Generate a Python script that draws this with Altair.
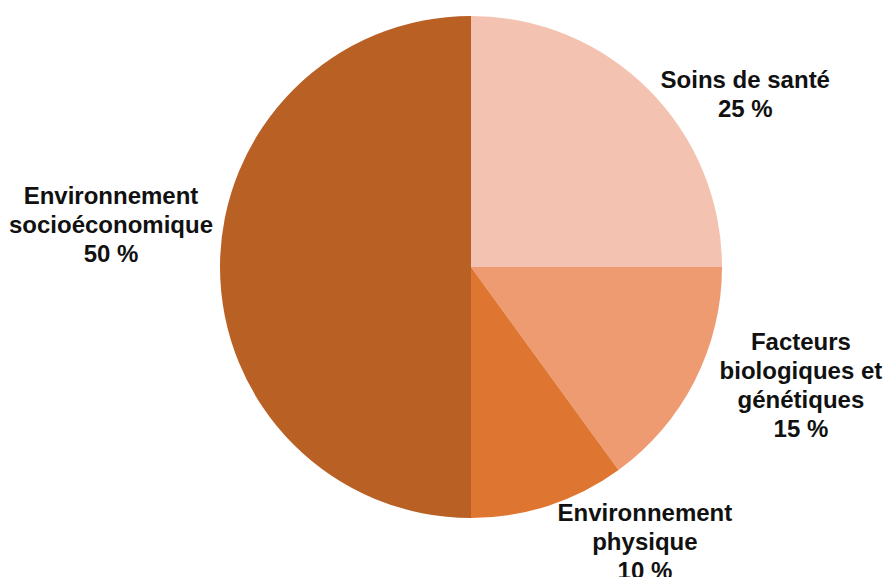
import altair as alt
import pandas as pd

categories = ["Soins de santé", "Facteurs biologiques et génétiques", "Environnement physique", "Environnement socioéconomique"]
labels = ["Soins de santé\n25 %", "Facteurs\nbiologiques et\ngénétiques\n15 %", "Environnement\nphysique\n10 %", "Environnement\nsocioéconomique\n50 %"]
values = [25, 15, 10, 50]
order = [1, 2, 3, 4]
colors = ["#F4C2B0", "#EF9B72", "#DE7530", "#B96024"]

df = pd.DataFrame({"cat": categories, "label": labels, "value": values, "order": order})

theta_scale = alt.Scale(domain=[0, 100])

base = alt.Chart(df).transform_stack(
    stack="value", groupby=[], as_=["start", "end"], sort=[alt.SortField("order")]
).transform_calculate(mid="(datum.start + datum.end) / 2")

pie = base.mark_arc(outerRadius=251).encode(
    theta=alt.Theta("start:Q", scale=theta_scale),
    theta2="end:Q",
    color=alt.Color("cat:N", scale=alt.Scale(domain=categories, range=colors), legend=None),
)

# per-label placement (radius, dx, dy) relative to slice midpoint
placement = {
    categories[0]: (320, 48, 40),
    categories[1]: (340, 27, -78),
    categories[2]: (320, 75, -57),
    categories[3]: (350, -10, -70),
}

text_layers = []
for c in categories:
    r, dx, dy = placement[c]
    t = base.transform_filter(alt.datum.cat == c).mark_text(
        radius=r, dx=dx, dy=dy, align="center", baseline="middle",
        lineBreak="\n", lineHeight=29, font="Liberation Sans", fontWeight="bold",
        fontSize=24, color="#111111",
    ).encode(
        theta=alt.Theta("mid:Q", scale=theta_scale),
        text="label:N",
    )
    text_layers.append(t)

chart = alt.layer(pie, *text_layers).properties(
    width=824, height=534,
    padding={"left": 59, "right": 0, "top": 0, "bottom": 43},
    autosize=alt.AutoSizeParams(type="none"),
).configure_view(stroke=None)

chart.save("out.html", embed_options={"renderer": "svg", "actions": False})
